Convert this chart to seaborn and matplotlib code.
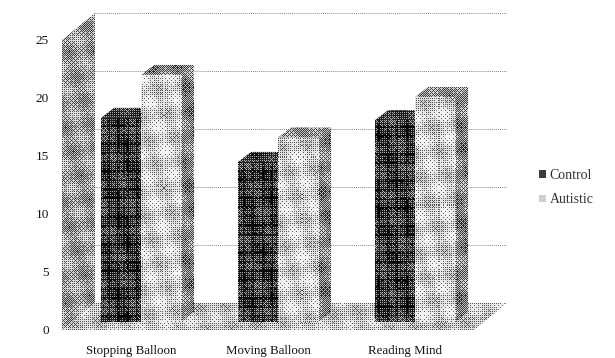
import numpy as np
import pandas as pd
import seaborn as sns
import matplotlib
matplotlib.use("Agg")
import matplotlib.pyplot as plt
from matplotlib.patches import Polygon

categories = ["Stopping Balloon", "Moving Balloon", "Reading Mind"]
control = [17.6, 13.8, 17.4]
autistic = [21.3, 15.9, 19.4]
groups = ["Control", "Autistic"]
y_ticks = [0, 5, 10, 15, 20, 25]

W, H = 615, 358
sns.set_theme(style="white")
plt.rcParams["font.family"] = ["Liberation Serif", "DejaVu Serif"]

df = pd.DataFrame({
    "category": categories * 2,
    "group": ["Control"] * 3 + ["Autistic"] * 3,
    "value": control + autistic,
})

fig = plt.figure(figsize=(W / 100, H / 100), dpi=100, facecolor="white")
PX_L, PX_R, PX_BASE, PX_UNIT = 62, 474, 322, 11.6
FRONT = 330              # floor front edge, px
offset = (PX_BASE - FRONT) / PX_UNIT
ax = fig.add_axes([PX_L / W, 1 - FRONT / H, (PX_R - PX_L) / W, 25 * PX_UNIT / H])
sns.barplot(data=df, x="category", y="value", hue="group", hue_order=groups,
            palette={"Control": "#3c3c3c", "Autistic": "#d0d0d0"},
            width=0.584, gap=0, ax=ax, errorbar=None, saturation=1, edgecolor="none")


def set_limits():
    ax.set_xlim(-0.577, 2.43)
    ax.set_ylim(offset, 25 + offset)


set_limits()
ax.patch.set_alpha(0)
sns.despine(ax=ax, left=True, bottom=True)

# pixel <-> data helpers
def d(px, py):
    return ax.transData.inverted().transform((px, H - py))

def p(x, y):
    a = ax.transData.transform((x, y))
    return a[0], H - a[1]

# dither textures (appearance only)
bayer = np.array([[0, 32, 8, 40, 2, 34, 10, 42], [48, 16, 56, 24, 50, 18, 58, 26],
                  [12, 44, 4, 36, 14, 46, 6, 38], [60, 28, 52, 20, 62, 30, 54, 22],
                  [3, 35, 11, 43, 1, 33, 9, 41], [51, 19, 59, 27, 49, 17, 57, 25],
                  [15, 47, 7, 39, 13, 45, 5, 37], [63, 31, 55, 23, 61, 29, 53, 21]]) / 64.0
yy, xx = np.mgrid[0:H, 0:W]
thr = bayer[yy % 8, xx % 8]

def texture(level, blotch=0.1, plaid=0.0, hard=0.55):
    g = level + blotch * np.sin(xx / 7.3 + yy / 11.1) * np.sin(xx / 9.7 - yy / 6.1)
    if plaid:
        g = g - plaid * (((xx % 9) < 2) | ((yy % 9) < 2))
    return hard * np.where(g > thr, 1.0, 0.0) + (1 - hard) * np.clip(g, 0, 1)

def shade(patch, tex, z):
    patch.set_zorder(z)
    im = ax.imshow(tex, cmap="gray", vmin=0, vmax=1, extent=(0, 1, 0, 1), origin="upper",
                   transform=fig.transFigure, interpolation="nearest", aspect="auto",
                   zorder=z + 0.1)
    im.set_clip_box(fig.bbox)
    im.set_clip_path(patch)

def face(points, tex, z):
    poly = Polygon([d(*q) for q in points], closed=True, facecolor="none",
                   edgecolor="none", clip_on=False)
    ax.add_patch(poly)
    shade(poly, tex, z)

DX, DY = 33, 27          # depth of the chart box, px
BX, BY = 13, 10          # depth of a bar, px
TOP = FRONT - 25 * PX_UNIT

wall_tex = texture(0.60, 0.14)
floor_tex = texture(0.74, 0.12)
face([(PX_L, FRONT), (PX_L, TOP), (PX_L + DX, TOP - DY), (PX_L + DX, FRONT - DY)], wall_tex, 1)
face([(PX_L, FRONT), (PX_R, FRONT), (PX_R + DX, FRONT - DY), (PX_L + DX, FRONT - DY)], floor_tex, 1)

# back-wall gridlines
for t in y_ticks[1:]:
    yb = t + offset + DY / PX_UNIT
    x0, _ = d(PX_L + DX, 0)
    x1, _ = d(PX_R + DX, 0)
    ax.plot([x0, x1], [yb, yb], color="#8a8a8a", lw=0.7, ls=(0, (1, 1)), clip_on=False, zorder=2)

# bars: seaborn's front faces, with the 3D sides derived from their geometry
textures = {
    "Control": (texture(0.30, 0.12, 0.18), texture(0.26, 0.1), texture(0.25, 0.1)),
    "Autistic": (texture(0.78, 0.14), texture(0.50, 0.12), texture(0.50, 0.14)),
}
bars = [b for c in ax.containers for b in c]
for i, (bar, g) in enumerate(zip(bars, ["Control"] * 3 + ["Autistic"] * 3)):
    col = i % 3
    z = 10 + col * 10 + (0 if g == "Control" else 5)
    front_t, top_t, side_t = textures[g]
    x0, top = p(bar.get_x(), bar.get_height())
    x1, base = p(bar.get_x() + bar.get_width(), 0)
    face([(x1, top), (x1 + BX, top - BY), (x1 + BX, base - BY), (x1, base)], side_t, z)
    face([(x0, top), (x1, top), (x1 + BX, top - BY), (x0 + BX, top - BY)], top_t, z + 1)
    bar.set_clip_on(False)
    shade(bar, front_t, z + 2)

ax.set_yticks([t + offset for t in y_ticks], [str(t) for t in y_ticks])
ax.set_xticks([i - 0.07 for i in range(3)], categories)
set_limits()
ax.tick_params(axis="y", length=0, pad=9.4, labelsize=9.5, colors="#111111")
ax.tick_params(axis="x", length=0, pad=10.7, labelsize=9.3, colors="#111111")
ax.set_xlabel("")
ax.set_ylabel("")

leg = ax.legend(loc="center left", bbox_to_anchor=(539 / W, 1 - 187.5 / H),
                bbox_transform=fig.transFigure, frameon=False, fontsize=10,
                handlelength=0.5, handleheight=0.5, handletextpad=0.25,
                labelspacing=0.85, borderpad=0, borderaxespad=0)
for t in leg.get_texts():
    t.set_color("#333333")
leg.set_zorder(60)

fig.savefig("out.png", dpi=100, facecolor="white")
